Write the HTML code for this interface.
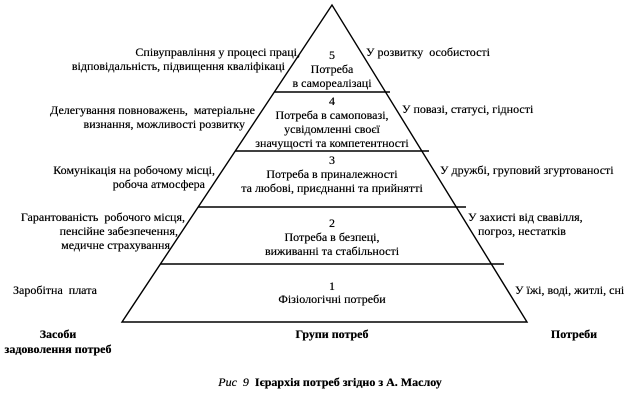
<!DOCTYPE html>
<html><head><meta charset="utf-8"><style>
body{margin:0;width:633px;height:400px;background:#fff;position:relative;overflow:hidden;font-family:"Liberation Serif",serif;font-size:12px;color:#000}
.t{position:absolute;white-space:nowrap;line-height:14px;text-shadow:0 0 0.4px #000}
.r{text-align:right}
.c{text-align:center;transform:translateX(-50%)}
b{font-weight:bold}
</style></head><body>
<svg width="633" height="400" style="position:absolute;left:0;top:0">
<g stroke="#000" stroke-width="1.4" fill="none">
<polygon points="332,5 122,322 527,322"/>
<line x1="274" y1="92" x2="390" y2="92"/>
<line x1="235" y1="151" x2="429" y2="151"/>
<line x1="198" y1="207" x2="466" y2="207"/>
<line x1="160" y1="264" x2="504" y2="264"/>
</g></svg>
<div class="t r" style="right:333px;top:45px">Співуправління у процесі праці,</div>
<div class="t r" style="right:348px;top:59px">відповідальність, підвищення кваліфікаці</div>
<div class="t r" style="right:378px;top:103px">Делегування повноважень,&nbsp; матеріальне</div>
<div class="t r" style="right:388px;top:117px">визнання, можливості розвитку</div>
<div class="t r" style="right:418px;top:163px">Комунікація на робочому місці,</div>
<div class="t r" style="right:428px;top:177px">робоча атмосфера</div>
<div class="t r" style="right:448px;top:210px">Гарантованість&nbsp; робочого місця,</div>
<div class="t r" style="right:455px;top:224px">пенсійне забезпечення,</div>
<div class="t r" style="right:463px;top:238px">медичне страхування</div>
<div class="t" style="left:13px;top:283px">Заробітна&nbsp; плата</div>
<div class="t" style="left:366px;top:45px">У розвитку&nbsp; особистості</div>
<div class="t" style="left:402px;top:102px">У повазі, статусі, гідності</div>
<div class="t" style="left:440px;top:163px">У дружбі, груповий згуртованості</div>
<div class="t" style="left:468px;top:210px">У захисті від свавілля,</div>
<div class="t" style="left:478px;top:224px">погроз, нестатків</div>
<div class="t" style="left:515px;top:283px">У їжі, воді, житлі, сні</div>
<div class="t c" style="left:332px;top:48px">5</div>
<div class="t c" style="left:332px;top:62px">Потреба</div>
<div class="t c" style="left:332px;top:76px">в самореалізаці</div>
<div class="t c" style="left:332px;top:94px">4</div>
<div class="t c" style="left:332px;top:108px">Потреба в самоповазі,</div>
<div class="t c" style="left:332px;top:122px">усвідомленні своєї</div>
<div class="t c" style="left:332px;top:136px">значущості та компетентності</div>
<div class="t c" style="left:332px;top:153px">3</div>
<div class="t c" style="left:332px;top:167px">Потреба в приналежності</div>
<div class="t c" style="left:332px;top:181px">та любові, приєднанні та прийнятті</div>
<div class="t c" style="left:332px;top:216px">2</div>
<div class="t c" style="left:332px;top:230px">Потреба в безпеці,</div>
<div class="t c" style="left:332px;top:244px">виживанні та стабільності</div>
<div class="t c" style="left:332px;top:279px">1</div>
<div class="t c" style="left:332px;top:292px">Фізіологічні потреби</div>
<div class="t c" style="left:58px;top:327px"><b>Засоби</b></div>
<div class="t c" style="left:58px;top:342px"><b>задоволення потреб</b></div>
<div class="t c" style="left:332px;top:327px"><b>Групи потреб</b></div>
<div class="t c" style="left:574px;top:327px"><b>Потреби</b></div>
<div class="t c" style="left:330px;top:375px;font-size:12px"><i>Рис&nbsp; 9</i>&nbsp; <b>Ієрархія потреб згідно з А. Маслоу</b></div>
</body></html>
